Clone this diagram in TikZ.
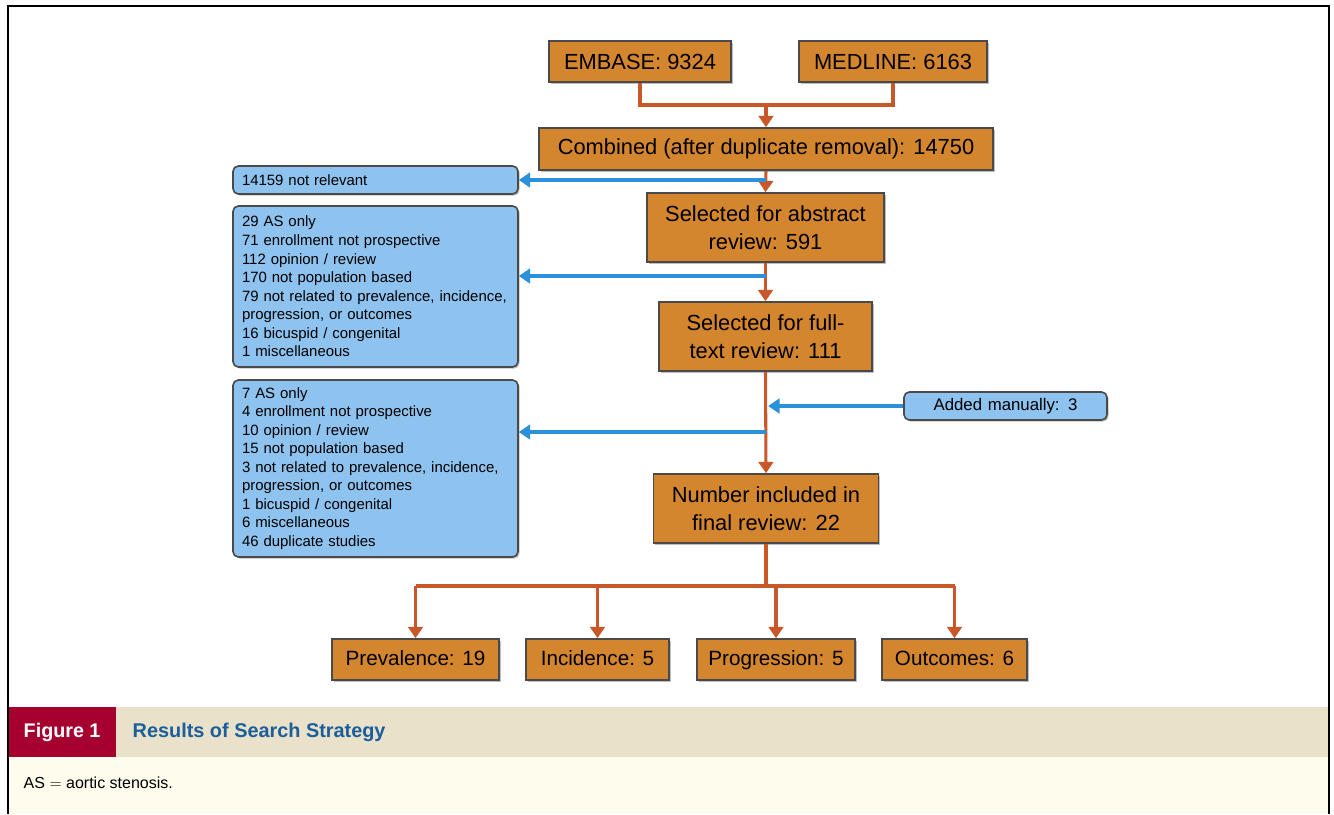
\documentclass[tikz,border=0pt]{standalone}
\usepackage{fontspec}
\setmainfont{Liberation Sans}
\usetikzlibrary{arrows.meta,shadows}

\definecolor{boxorange}{HTML}{D4862E}
\definecolor{boxblue}{HTML}{8EC2EF}
\definecolor{lineorange}{HTML}{C8582A}
\definecolor{lineblue}{HTML}{2B91DB}
\definecolor{boxedge}{HTML}{4A4A4A}
\definecolor{capred}{HTML}{A6002F}
\definecolor{captan}{HTML}{E9E1C9}
\definecolor{capcream}{HTML}{FEFCEC}
\definecolor{capblue}{HTML}{1B5E9C}

\begin{document}
\begin{tikzpicture}[x=0.75pt, y=-0.75pt,
    stage/.style={draw=boxedge, line width=1.2pt, fill=boxorange, inner sep=0pt,
        align=center, minimum height=30.75pt,
        font=\fontsize{16.4}{21}\selectfont,
        drop shadow={shadow xshift=1.2pt, shadow yshift=-1.2pt, opacity=0.5}},
    twoline/.style={stage, minimum height=51.75pt},
    result/.style={stage, text height=11.5pt, text depth=3pt,
        font=\fontsize{15.5}{19}\selectfont},
    excl/.style={draw=boxedge, line width=1.2pt, fill=boxblue, rounded corners=4pt,
        inner sep=0pt, align=left, minimum width=213.75pt, text width=200.25pt,
        font=\fontsize{11.2}{13.9}\selectfont,
        drop shadow={shadow xshift=1.2pt, shadow yshift=-1.2pt, opacity=0.5}},
    flow/.style={draw=lineorange, line width=2.3pt},
    flowarrow/.style={flow, -{Triangle[width=11pt, length=8.5pt]}},
    outarrow/.style={draw=lineblue, line width=2.3pt, -{Triangle[width=11pt, length=8.5pt]}}]

\useasboundingbox (0,0) rectangle (1334,814);

% caption bands
\fill[captan] (8,707) rectangle (1329,757);
\fill[capcream] (8,757) rectangle (1329,814);
\fill[capred] (8,707) rectangle (116,757);
\node[anchor=west, text=white, font=\fontsize{14.8}{18}\selectfont\bfseries] (fig) at (19,732) {Figure 1};
\node[anchor=west, text=capblue, font=\fontsize{14.9}{18}\selectfont\bfseries] (title) at (128,732) {Results of Search Strategy};
\node[anchor=west, font=\fontsize{12}{14}\selectfont] (abbr) at (19,783) {AS $=$ aortic stenosis.};

% frame
\draw[line width=1.5pt] (8,814) -- (8,6) -- (1329,6) -- (1329,814);

% sources
\node[stage, minimum width=136.5pt] (emb) at (640,61.5) {EMBASE: 9324};
\node[stage, minimum width=141pt] (med) at (893,61.5) {MEDLINE: 6163};
\node[stage, minimum width=340.5pt, minimum height=31.5pt] (comb) at (766,149) {Combined (after duplicate removal): 14750};

% screening
\node[twoline, minimum width=177.75pt] (abs) at (765.5,227.5) {Selected for abstract\\review: 591};
\node[twoline, minimum width=159.75pt] (full) at (765.5,336.5) {Selected for full-\\text review: 111};
\node[twoline, minimum width=168.75pt] (incl) at (766,508.5) {Number included in\\final review: 22};

% exclusions
\node[excl, minimum height=21pt] (rel) at (375.5,180) {14159 not relevant};
\node[excl, minimum height=120.75pt] (exa) at (375.5,286.5) {29 AS only\\71 enrollment not prospective\\112 opinion / review\\170 not population based\\79 not related to prevalence, incidence,\\progression, or outcomes\\16 bicuspid / congenital\\1 miscellaneous};
\node[excl, minimum height=132.75pt] (exb) at (375.5,468.5) {7 AS only\\4 enrollment not prospective\\10 opinion / review\\15 not population based\\3 not related to prevalence, incidence,\\progression, or outcomes\\1 bicuspid / congenital\\6 miscellaneous\\46 duplicate studies};
\node[excl, minimum width=152.25pt, text width=140pt, align=center, minimum height=21pt,
    font=\fontsize{12.6}{15}\selectfont] (add) at (1005.5,406) {Added manually: 3};

% outcomes
\node[result, minimum width=125.25pt] (prev) at (415.5,659.5) {Prevalence: 19};
\node[result, minimum width=107.25pt] (inc) at (597.5,659.5) {Incidence: 5};
\node[result, minimum width=118.5pt] (prog) at (776,659.5) {Progression: 5};
\node[result, minimum width=108.75pt] (outc) at (954.5,659.5) {Outcomes: 6};

\coordinate (merge) at (766,105);
\coordinate (cutA) at (766,276);
\coordinate (cutB) at (766,432);
\coordinate (split) at (766,586);

% orange flow
\draw[flow] (emb.south) |- (merge) -| (med.south);
\draw[flowarrow] (merge) -- (comb.north);
\draw[flowarrow] (comb.south) -- (abs.north);
\draw[flowarrow] (abs.south) -- (full.north);
\draw[flowarrow] (full.south) -- (incl.north);
\draw[flow] (incl.south) -- (split);
\draw[flow] (prev.north |- split) -- (outc.north |- split);
\foreach \n in {prev,inc,prog,outc}
    \draw[flowarrow] (\n.north |- split) -- (\n.north);

% blue side arrows
\draw[outarrow] (comb.south |- rel.east) -- (rel.east);
\draw[outarrow] (cutA) -- (cutA -| exa.east);
\draw[outarrow] (cutB) -- (cutB -| exb.east);
\draw[outarrow] (add.west) -- ([xshift=2pt]add.west -| full.south);

\end{tikzpicture}
\end{document}
